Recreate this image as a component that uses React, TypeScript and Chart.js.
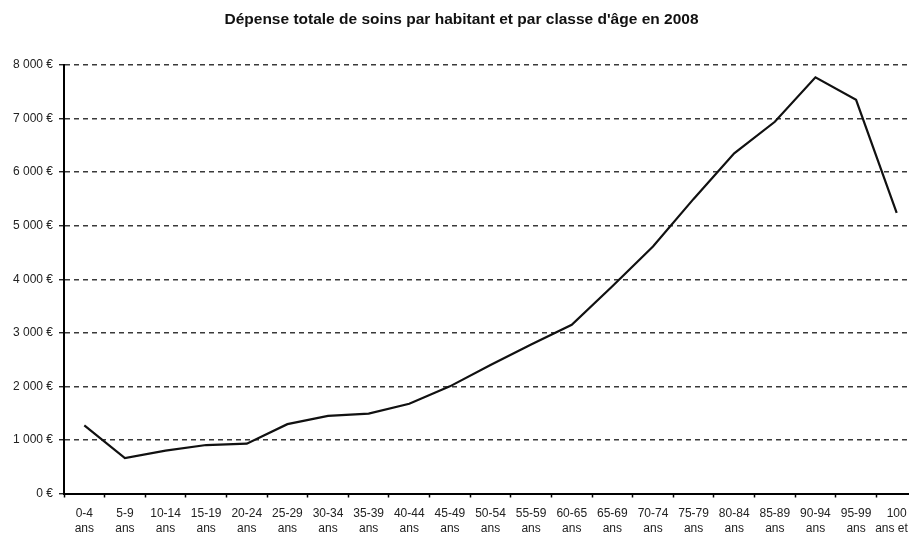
import React, { useEffect, useRef } from "react";
import { Chart, registerables } from "chart.js";

Chart.register(...registerables);

const categories: string[][] = [
  ["0-4", "ans"], ["5-9", "ans"], ["10-14", "ans"], ["15-19", "ans"], ["20-24", "ans"],
  ["25-29", "ans"], ["30-34", "ans"], ["35-39", "ans"], ["40-44", "ans"], ["45-49", "ans"],
  ["50-54", "ans"], ["55-59", "ans"], ["60-65", "ans"], ["65-69", "ans"], ["70-74", "ans"],
  ["75-79", "ans"], ["80-84", "ans"], ["85-89", "ans"], ["90-94", "ans"], ["95-99", "ans"],
  ["100", "ans et +"],
];

const depense: number[] = [
  1270, 660, 800, 905, 930, 1295, 1450, 1490, 1675, 2000,
  2400, 2780, 3150, 3870, 4610, 5500, 6350, 6940, 7770, 7350, 5240,
];

const yTickValues: number[] = [0, 1000, 2000, 3000, 4000, 5000, 6000, 7000, 8000];

const titleText = "Dépense totale de soins par habitant et par classe d'âge en 2008";

function formatEuro(v: number): string {
  if (v === 0) return "0 €";
  const th = Math.floor(v / 1000);
  const rest = String(v % 1000).padStart(3, "0");
  return `${th} ${rest} €`;
}

export default function App() {
  const ref = useRef<HTMLCanvasElement | null>(null);

  useEffect(() => {
    if (!ref.current) return;
    const chart = new Chart(ref.current, {
      type: "line",
      data: {
        labels: categories,
        datasets: [
          {
            data: depense,
            borderColor: "#111",
            borderWidth: 2.2,
            pointRadius: 0,
            tension: 0,
            fill: false,
          },
        ],
      },
      options: {
        animation: false,
        responsive: false,
        layout: { padding: { left: 6, right: 3, top: 0, bottom: 0 } },
        plugins: {
          legend: { display: false },
          tooltip: { enabled: false },
          title: {
            display: true,
            text: titleText,
            color: "#111",
            font: { family: "Liberation Sans, Arial", size: 15.5, weight: "bold", lineHeight: 1.2 },
            padding: { top: 10.7, bottom: 35.7 },
          },
        },
        scales: {
          x: {
            type: "category",
            offset: true,
            grid: {
              display: true,
              drawOnChartArea: false,
              offset: true,
              tickLength: 4,
              tickColor: "#000",
              tickWidth: 1.5,
            },
            border: { display: true, color: "#000", width: 2 },
            ticks: {
              autoSkip: false,
              maxRotation: 0,
              minRotation: 0,
              color: "#222",
              padding: 8,
              font: { family: "Liberation Sans, Arial", size: 12, lineHeight: 1.3 },
            },
            afterFit: (scale: any) => {
              scale.height = 41.5;
              scale.paddingLeft = 0;
              scale.paddingRight = 0;
            },
          },
          y: {
            min: 0,
            max: 8000,
            afterBuildTicks: (scale: any) => {
              scale.ticks = yTickValues.map((v) => ({ value: v }));
            },
            grid: {
              color: "#3a3a3a",
              lineWidth: 1.5,
              tickLength: 5,
              tickColor: "#000",
              tickWidth: 1.2,
              tickBorderDash: [],
            },
            border: { display: true, color: "#000", width: 2, dash: [5, 4] },
            ticks: {
              color: "#222",
              padding: 6,
              font: { family: "Liberation Sans, Arial", size: 12 },
              callback: (v: any) => formatEuro(Number(v)),
            },
            afterFit: (scale: any) => {
              scale.width = 58;
            },
          },
        },
      },
    });
    return () => chart.destroy();
  }, []);

  return (
    <div
      style={{
        position: "fixed",
        left: 0,
        top: 0,
        width: 909,
        height: 535,
        overflow: "hidden",
        background: "#fff",
      }}
    >
      <canvas ref={ref} width={920} height={535} style={{ display: "block" }} />
    </div>
  );
}
